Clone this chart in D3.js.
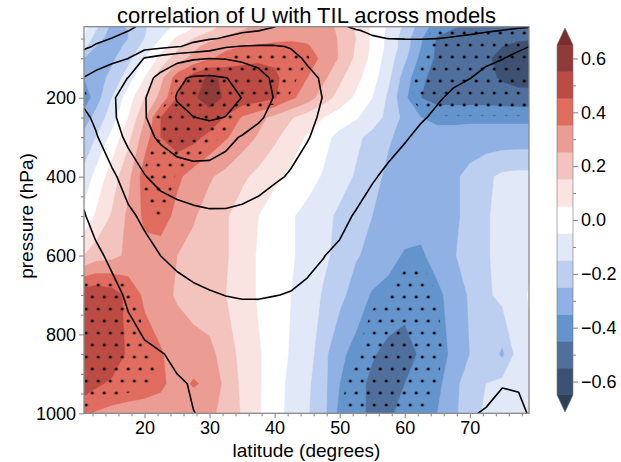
<!DOCTYPE html>
<html>
<head>
<meta charset="utf-8">
<script src="https://cdn.jsdelivr.net/npm/d3@7"></script>
<style>
body { margin: 0; background: #fff; }
text { font-family: "Liberation Sans", Arial, Helvetica, sans-serif; }
</style>
</head>
<body>
<script>
// grid: latitudes (columns) and pressure levels (rows)
var lats = [10.7, 12.5, 15, 17.5, 20, 22.5, 25, 27.5, 30, 32.5, 35, 37.5, 40, 42.5, 45,
            47.5, 50, 52.5, 55, 57.5, 60, 62.5, 65, 67.5, 70, 72.5, 75, 77.5, 79.1];
var levels = [20, 30, 50, 70, 100, 150, 200, 250, 300, 400, 500, 600, 700, 850, 925, 1000];

// correlation of U with TIL, one row per level
var corr = [
  [-0.02,-0.12,-0.28,-0.24,-0.16,-0.09,-0.03,0.05,0.12,0.18,0.23,0.27,0.3,0.32,0.32,0.3,0.22,0.14,0.03,-0.07,-0.17,-0.3,-0.4,-0.44,-0.47,-0.5,-0.52,-0.53,-0.53],
  [-0.03,-0.15,-0.29,-0.25,-0.16,-0.08,-0.01,0.07,0.14,0.2,0.25,0.29,0.32,0.33,0.33,0.3,0.23,0.14,0.03,-0.07,-0.18,-0.31,-0.42,-0.46,-0.48,-0.51,-0.52,-0.53,-0.54],
  [-0.05,-0.2,-0.3,-0.25,-0.15,-0.05,0.07,0.15,0.22,0.27,0.3,0.31,0.33,0.34,0.33,0.3,0.24,0.15,0.03,-0.08,-0.2,-0.34,-0.46,-0.5,-0.52,-0.53,-0.53,-0.54,-0.54],
  [-0.12,-0.25,-0.3,-0.22,-0.12,0.0,0.12,0.22,0.29,0.33,0.35,0.36,0.37,0.37,0.36,0.31,0.24,0.14,0.03,-0.08,-0.2,-0.35,-0.47,-0.5,-0.51,-0.53,-0.55,-0.57,-0.58],
  [-0.25,-0.3,-0.27,-0.18,-0.05,0.08,0.2,0.28,0.34,0.38,0.41,0.43,0.43,0.42,0.39,0.33,0.24,0.13,0.02,-0.1,-0.23,-0.38,-0.47,-0.5,-0.51,-0.54,-0.57,-0.6,-0.6],
  [-0.35,-0.3,-0.22,-0.1,0.05,0.22,0.4,0.5,0.57,0.53,0.52,0.51,0.47,0.4,0.35,0.27,0.17,0.08,-0.01,-0.13,-0.3,-0.43,-0.49,-0.51,-0.52,-0.53,-0.56,-0.58,-0.58],
  [-0.42,-0.3,-0.15,0.0,0.15,0.28,0.45,0.54,0.58,0.54,0.52,0.5,0.46,0.37,0.3,0.2,0.11,0.03,-0.05,-0.17,-0.33,-0.45,-0.5,-0.5,-0.5,-0.5,-0.51,-0.52,-0.52],
  [-0.3,-0.22,-0.1,0.05,0.24,0.45,0.52,0.53,0.52,0.44,0.34,0.28,0.22,0.16,0.1,0.05,0.0,-0.04,-0.1,-0.18,-0.28,-0.35,-0.37,-0.37,-0.37,-0.37,-0.37,-0.37,-0.37],
  [-0.22,-0.15,-0.02,0.12,0.3,0.45,0.5,0.48,0.42,0.36,0.3,0.24,0.17,0.1,0.04,-0.02,-0.08,-0.13,-0.18,-0.24,-0.28,-0.31,-0.32,-0.32,-0.31,-0.31,-0.31,-0.31,-0.31],
  [-0.12,-0.02,0.1,0.22,0.4,0.44,0.37,0.31,0.26,0.22,0.17,0.12,0.07,0.03,-0.01,-0.06,-0.11,-0.16,-0.22,-0.27,-0.3,-0.3,-0.3,-0.27,-0.22,-0.17,-0.13,-0.12,-0.12],
  [-0.02,0.06,0.16,0.27,0.37,0.4,0.32,0.26,0.21,0.16,0.1,0.05,0.0,-0.04,-0.08,-0.12,-0.17,-0.21,-0.25,-0.29,-0.3,-0.3,-0.29,-0.27,-0.22,-0.16,-0.12,-0.1,-0.1],
  [0.15,0.2,0.22,0.27,0.32,0.3,0.25,0.22,0.2,0.16,0.1,0.04,0.0,-0.04,-0.08,-0.13,-0.18,-0.24,-0.28,-0.32,-0.36,-0.37,-0.3,-0.26,-0.2,-0.16,-0.12,-0.1,-0.08],
  [0.52,0.53,0.5,0.42,0.33,0.28,0.24,0.2,0.18,0.15,0.1,0.04,-0.02,-0.05,-0.1,-0.16,-0.22,-0.3,-0.36,-0.38,-0.42,-0.43,-0.38,-0.3,-0.24,-0.17,-0.12,-0.1,-0.04],
  [0.55,0.55,0.52,0.43,0.4,0.36,0.3,0.3,0.28,0.2,0.12,0.06,0.0,-0.06,-0.1,-0.22,-0.33,-0.38,-0.44,-0.48,-0.48,-0.44,-0.41,-0.32,-0.25,-0.17,-0.27,-0.1,-0.08],
  [0.5,0.47,0.43,0.41,0.4,0.37,0.31,0.36,0.33,0.22,0.13,0.06,0.0,-0.08,-0.13,-0.22,-0.35,-0.42,-0.47,-0.48,-0.45,-0.42,-0.38,-0.28,-0.2,-0.15,-0.12,-0.1,-0.1],
  [0.38,0.34,0.32,0.31,0.3,0.3,0.3,0.28,0.27,0.22,0.14,0.06,-0.01,-0.08,-0.14,-0.22,-0.38,-0.42,-0.47,-0.46,-0.43,-0.41,-0.35,-0.27,-0.2,-0.13,-0.12,-0.1,-0.1]
];

// zonal wind U (m/s), drawn as black contours
var uwind = [
  [-6,-4.5,-2.8,-1,1.2,3,4.5,5.8,6.8,7.8,8.6,9.3,9.9,12,14.5,17,19.2,20.8,22,23,23.5,23.6,23.5,23,22.4,21.7,21,20.5,20.3],
  [-4.5,-3.2,-1.6,-0.1,1.8,3.6,5.2,6.5,7.5,8.5,9.3,9.9,11.2,13,15,17,18.7,19.7,20.6,21.3,21.6,21.7,21.6,21.3,20.9,20.5,19.9,19.2,18.6],
  [-2.5,-1.2,0.1,2,4,6,7.5,8.6,9.5,10.5,12,13.5,14.5,15.5,16.5,17.5,18.5,19.2,19.6,20.05,20.3,20.4,20.05,19.6,19.1,18,16.5,15,14],
  [-1,0.5,2.5,4.5,5.5,7.5,9.5,11.5,14,19,20.5,21,20.8,19.5,18,17.5,17.3,17.2,17,16.8,16.5,16,15.5,14.7,13.7,12.5,11.4,10.5,10.02],
  [3,5,7.5,9.9,20.5,24,27,29,29.9,29.5,28,26,24.5,22,19,17,16,15.3,14.7,14,13.4,12.8,12.2,11.6,11,10.5,10.1,9.3,8.7],
  [10.3,13,16.5,20.2,27,32.5,38.5,41,41.5,40.2,38,34,28,24.5,21.8,19.2,17.2,15.8,14.6,13.5,12.6,11.8,11,10.5,10.05,9.3,8.6,8,7.6],
  [12,15,19,23.5,29.5,35,40.5,44,45,43.5,39.8,35,29.5,25.5,22.2,19.8,17.8,16.2,14.8,13.5,12.4,11.2,10.3,9.5,8.8,8.1,7.5,7,6.7],
  [8.2,11.5,18.5,24,29.5,34,38,39.8,41,39.8,36.5,31.5,27,24,21.5,19,17,15.2,13.7,12.2,11.4,10.3,9.5,8.7,8,7.4,6.8,6.3,6],
  [6,9.2,15,22.5,27.5,31.5,34.5,35.5,35,32.5,29.3,26.5,24,22,20.3,18.5,16.5,14.5,12.8,11.4,10.3,9.3,8.6,8,7.4,6.9,6.4,6,5.7],
  [2.5,5.5,8.5,13.5,19.5,23.5,25.5,26.5,26.5,25.5,24,22.5,20.8,19.5,18,16,14,12.2,10.4,9.2,8.4,7.7,7,6.4,5.8,5.3,4.8,4.4,4.2],
  [-0.5,2.5,5.5,8.5,11.5,14,16,17.5,18.5,18.7,18.3,17.5,16.5,15.5,14.2,12.8,11.2,9.6,8.3,7.3,6.5,5.8,5.2,4.6,4,3.5,3,2.6,2.4],
  [-4,-1.5,1.5,4.5,7.5,10.05,11.7,12.8,13.5,13.8,13.7,13.3,12.7,11.8,10.8,10.1,9.2,8.2,7.3,6.5,5.8,5.1,4.4,3.7,3.1,2.5,2.1,1.8,1.7],
  [-7,-5,-2,1,3.8,6,7.5,8.7,9.5,10.1,10.4,10.4,10.1,9.8,9.4,8.8,8.1,7.4,6.6,5.9,5.2,4.6,4,3.4,2.8,2.2,1.7,1.4,1.3],
  [-9,-7,-4.5,-2.5,-1.2,-0.3,1,2.5,3.5,4.3,4.8,5,5,4.9,4.8,4.6,4.4,4.1,3.8,3.5,3.1,2.7,2.3,1.9,1.5,1.1,0.8,0.6,0.5],
  [-8,-6.5,-4.5,-3,-2,-1.3,-0.5,0.3,1,1.6,2,2.2,2.3,2.3,2.2,2.1,2,1.8,1.6,1.4,1.2,1,0.8,0.6,0.45,0.2,0.05,0.08,0.2],
  [-5,-4,-3,-2,-1.4,-0.9,-0.4,-0.05,0.4,0.7,0.9,1,1,1,0.9,0.9,0.8,0.7,0.6,0.5,0.4,0.3,0.2,0.12,0.05,-0.05,-0.3,-0.2,0.05]
];

var fillLevels = [-0.65, -0.55, -0.45, -0.35, -0.25, -0.15, -0.05, 0.05, 0.15, 0.25, 0.35, 0.45, 0.55, 0.65];
var fillColors = ["#2f3f57", "#3d5272", "#4f709c", "#6494cc", "#90b1e3", "#bccff0", "#e1e9f8",
                  "#ffffff", "#f9e4e2", "#f3c3bd", "#eb9d93", "#df6c5f", "#bc4b43", "#8f3b3a", "#7a2d2f"];
var uLevels = [0, 10, 20, 30, 40];
var sigLevel = 0.38;
var latTicks = [20, 30, 40, 50, 60, 70];
var presTicks = [200, 400, 600, 800, 1000];
var cbarTicks = [-0.6, -0.4, -0.2, 0, 0.2, 0.4, 0.6];

var W = 621, H = 462;
var nx = lats.length, ny = levels.length;

var svg = d3.select("body").append("svg")
    .attr("width", W)
    .attr("height", H);

var x = d3.scaleLinear().domain([10.7, 79.1]).range([84, 529]);
var y = d3.scaleLinear().domain([20, 1000]).range([26.7, 413.3]);

// grid coords from d3.contours -> pixels
function toPixel(pt) {
    var i = Math.max(0, Math.min(nx - 1, pt[0] - 0.5));
    var j = Math.max(0, Math.min(ny - 1, pt[1] - 0.5));
    var i0 = Math.min(Math.floor(i), nx - 2), fi = i - i0;
    var j0 = Math.min(Math.floor(j), ny - 2), fj = j - j0;
    var lat = lats[i0] + fi * (lats[i0 + 1] - lats[i0]);
    var p = levels[j0] + fj * (levels[j0 + 1] - levels[j0]);
    return [x(lat), y(p)];
}

function ringPath(ring) {
    return "M" + ring.map(function (pt) {
        var q = toPixel(pt);
        return q[0].toFixed(2) + "," + q[1].toFixed(2);
    }).join("L") + "Z";
}

function shapePath(c) {
    return c.coordinates.map(function (poly) {
        return poly.map(ringPath).join("");
    }).join("");
}

var flat = [].concat.apply([], corr);
var flatNeg = flat.map(function (v) { return -v; });
var flatU = [].concat.apply([], uwind);

var contours = d3.contours().size([nx, ny]);

var defs = svg.append("defs");
defs.append("clipPath").attr("id", "plotclip")
    .append("rect")
    .attr("x", x.range()[0]).attr("y", y.range()[0])
    .attr("width", x.range()[1] - x.range()[0])
    .attr("height", y.range()[1] - y.range()[0]);

var pat = defs.append("pattern")
    .attr("id", "dots")
    .attr("patternUnits", "userSpaceOnUse")
    .attr("x", -0.7).attr("y", 18)
    .attr("width", 12).attr("height", 24);
pat.append("circle").attr("cx", 3).attr("cy", 3).attr("r", 1.5).attr("fill", "#000");
pat.append("circle").attr("cx", 9).attr("cy", 15).attr("r", 1.5).attr("fill", "#000");

var plot = svg.append("g").attr("clip-path", "url(#plotclip)");

plot.append("rect")
    .attr("x", x.range()[0]).attr("y", y.range()[0])
    .attr("width", x.range()[1] - x.range()[0])
    .attr("height", y.range()[1] - y.range()[0])
    .attr("fill", fillColors[0]);

// filled bands
plot.selectAll("path.band")
    .data(contours.thresholds(fillLevels)(flat))
    .enter().append("path")
    .attr("class", "band")
    .attr("d", shapePath)
    .attr("fill-rule", "evenodd")
    .attr("fill", function (d, i) { return fillColors[i + 1]; })
    .attr("stroke", function (d, i) { return fillColors[i + 1]; })
    .attr("stroke-width", 0.4);

// stippling where |r| is large
var sig = contours.thresholds([sigLevel])(flat).concat(contours.thresholds([sigLevel])(flatNeg));
plot.selectAll("path.sig")
    .data(sig)
    .enter().append("path")
    .attr("class", "sig")
    .attr("d", shapePath)
    .attr("fill-rule", "evenodd")
    .attr("fill", "url(#dots)");

// U contour lines, without the pieces running along the frame
function edgeMask(pt) {
    var m = 0;
    if (pt[0] <= 0.5) m |= 1;
    if (pt[0] >= nx - 0.5) m |= 2;
    if (pt[1] <= 0.5) m |= 4;
    if (pt[1] >= ny - 0.5) m |= 8;
    return m;
}

function contourLines(c) {
    var lines = [];
    c.coordinates.forEach(function (poly) {
        poly.forEach(function (ring) {
            var n = ring.length - 1;
            var keep = [];
            for (var k = 0; k < n; k++) {
                keep.push((edgeMask(ring[k]) & edgeMask(ring[k + 1])) === 0);
            }
            var start = keep.indexOf(false);
            if (start < 0) { lines.push(ring.map(toPixel)); return; }
            var cur = null;
            for (var s = 1; s <= n; s++) {
                var k2 = (start + s) % n;
                if (keep[k2]) {
                    if (!cur) cur = [ring[k2]];
                    cur.push(ring[k2 + 1]);
                } else if (cur) {
                    lines.push(cur.map(toPixel));
                    cur = null;
                }
            }
            if (cur) lines.push(cur.map(toPixel));
        });
    });
    return lines;
}

var uLines = [];
contours.thresholds(uLevels)(flatU).forEach(function (c) {
    uLines = uLines.concat(contourLines(c));
});

var line = d3.line();
plot.selectAll("path.ucont")
    .data(uLines)
    .enter().append("path")
    .attr("class", "ucont")
    .attr("d", line)
    .attr("fill", "none")
    .attr("stroke", "#000")
    .attr("stroke-width", 1.6)
    .attr("stroke-linejoin", "round");

// frame
svg.append("rect")
    .attr("x", x.range()[0]).attr("y", y.range()[0])
    .attr("width", x.range()[1] - x.range()[0])
    .attr("height", y.range()[1] - y.range()[0])
    .attr("fill", "none")
    .attr("stroke", "#8a8a8a")
    .attr("stroke-width", 1.3);

// axes
var minorLat = d3.range(12, 80, 2).filter(function (d) { return d % 10 !== 0; });
var minorPres = d3.range(50, 1000, 50).filter(function (d) { return d % 200 !== 0; });

var xAxis = svg.append("g")
    .attr("transform", "translate(0," + y.range()[1] + ")")
    .call(d3.axisBottom(x).tickValues(latTicks).tickSize(5).tickPadding(3).tickFormat(d3.format("d")));
svg.append("g")
    .attr("transform", "translate(0," + y.range()[1] + ")")
    .call(d3.axisBottom(x).tickValues(minorLat).tickSize(3).tickFormat(""))
    .select(".domain").remove();

var yAxis = svg.append("g")
    .attr("transform", "translate(" + x.range()[0] + ",0)")
    .call(d3.axisLeft(y).tickValues(presTicks).tickSize(5).tickPadding(3).tickFormat(d3.format("d")));
svg.append("g")
    .attr("transform", "translate(" + x.range()[0] + ",0)")
    .call(d3.axisLeft(y).tickValues(minorPres).tickSize(3).tickFormat(""))
    .select(".domain").remove();

svg.selectAll(".domain").remove();
xAxis.selectAll(".tick text").attr("font-size", 18).attr("fill", "#000");
yAxis.selectAll(".tick text").attr("font-size", 18).attr("fill", "#000");

// colorbar
var cbx = 557, cbw = 16;
var cy = d3.scaleLinear().domain([-0.65, 0.65]).range([395, 45]);
var cbar = svg.append("g");
cbar.selectAll("rect")
    .data(d3.range(fillLevels.length - 1))
    .enter().append("rect")
    .attr("x", cbx)
    .attr("y", function (i) { return cy(fillLevels[i + 1]); })
    .attr("width", cbw)
    .attr("height", function (i) { return cy(fillLevels[i]) - cy(fillLevels[i + 1]); })
    .attr("fill", function (i) { return fillColors[i + 1]; });
cbar.append("path")
    .attr("d", "M" + cbx + "," + cy(0.65) + "L" + (cbx + cbw) + "," + cy(0.65) + "L" + (cbx + cbw / 2) + ",28Z")
    .attr("fill", fillColors[14]);
cbar.append("path")
    .attr("d", "M" + cbx + "," + cy(-0.65) + "L" + (cbx + cbw) + "," + cy(-0.65) + "L" + (cbx + cbw / 2) + ",412Z")
    .attr("fill", fillColors[0]);
cbar.append("path")
    .attr("d", "M" + cbx + "," + cy(0.65) + "L" + (cbx + cbw / 2) + ",28L" + (cbx + cbw) + "," + cy(0.65) +
               "L" + (cbx + cbw) + "," + cy(-0.65) + "L" + (cbx + cbw / 2) + ",412L" + cbx + "," + cy(-0.65) + "Z")
    .attr("fill", "none")
    .attr("stroke", "#777")
    .attr("stroke-width", 0.6);

var cAxis = svg.append("g")
    .attr("transform", "translate(" + (cbx + cbw) + ",0)")
    .call(d3.axisRight(cy).tickValues(cbarTicks).tickSize(5).tickPadding(3).tickFormat(d3.format(".1f")));
svg.append("g")
    .attr("transform", "translate(" + (cbx + cbw) + ",0)")
    .call(d3.axisRight(cy).tickValues([-0.5, -0.3, -0.1, 0.1, 0.3, 0.5]).tickSize(3).tickFormat(""))
    .select(".domain").remove();
cAxis.select(".domain").remove();
svg.selectAll(".tick line").attr("stroke", "#8a8a8a").attr("stroke-width", 1.1);
cAxis.selectAll(".tick text").attr("font-size", 18).attr("fill", "#000");

// titles
svg.append("text")
    .attr("x", 306.5).attr("y", 23)
    .attr("text-anchor", "middle")
    .attr("font-size", 22)
    .text("correlation of U with TIL across models");

svg.append("text")
    .attr("x", 306.5).attr("y", 457)
    .attr("text-anchor", "middle")
    .attr("font-size", 19)
    .text("latitude (degrees)");

svg.append("text")
    .attr("transform", "translate(33,216) rotate(-90)")
    .attr("text-anchor", "middle")
    .attr("font-size", 19)
    .text("pressure (hPa)");
</script>
</body>
</html>
